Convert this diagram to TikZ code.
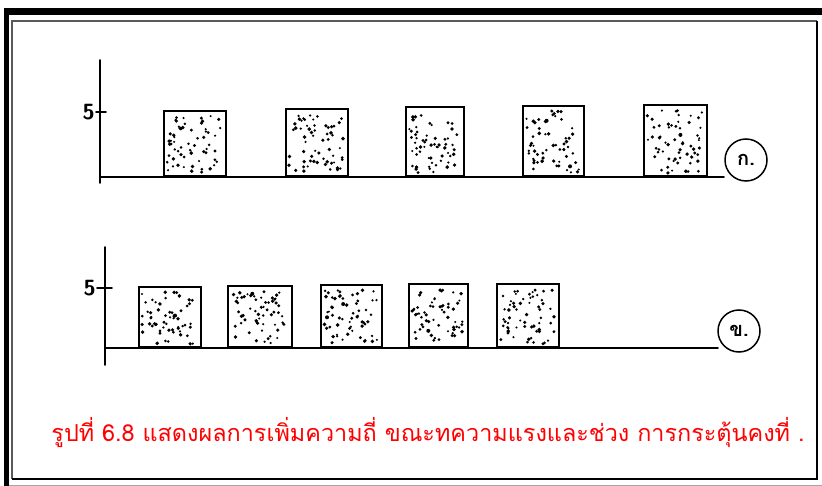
\documentclass[tikz,border=0pt]{standalone}
\usepackage{fontspec}
\newfontfamily\thaifont[Script=Thai]{Loma}
\usetikzlibrary{calc}
\tikzset{
  axisline/.style={line width=1.8pt, line cap=round},
  barbox/.style={draw, line width=1.8pt, inner sep=0pt, anchor=south west},
  tagcircle/.style={draw, circle, line width=1.5pt, minimum size=42pt, inner sep=0pt, font=\thaifont\bfseries\fontsize{20}{20}\selectfont},
  ticklabel/.style={font=\sffamily\bfseries\fontsize{22}{22}\selectfont, inner sep=1pt},
  caption/.style={font=\thaifont\fontsize{23.4}{24}\selectfont, text=red}
}
\newcommand{\mystipple}[3]{%
  \foreach \k in {1,...,60}{%
    \pgfmathsetmacro\dx{rnd*(#2-8)+4}%
    \pgfmathsetmacro\dy{rnd*(#3-8)+4}%
    \pgfmathsetmacro\rr{1.1+0.9*rnd}%
    \fill ([xshift=\dx pt, yshift=\dy pt]#1.south west) circle (\rr pt);
  }%
}
\begin{document}
\begin{tikzpicture}[x=1pt,y=-1pt]
\pgfmathsetseed{7}
\useasboundingbox (0,0) rectangle (822,486);
% frame
\fill[black] (4,8) rectangle (822,15);
\fill[black] (4,8) rectangle (9,486);
\draw[black!65, line width=1.3pt] (817,21) -- (12,21) -- (12,479);
\draw[black, line width=1.5pt] (817,21) -- (817,479) -- (12,479);
\draw[black!35, line width=1pt] (9,485) -- (822,485);

% chart A
\coordinate (a0) at (100,177);
\coordinate (atop) at (100,60);
\coordinate (abot) at (100,183);
\coordinate (aend) at (724,177);
\coordinate (atick) at (106,112);
\draw[axisline] (atop) -- (abot);
\draw[axisline] (a0) -- (aend);
\draw[axisline] (96,112) -- (atick);
\node[ticklabel, anchor=east] (a5) at (96,112) {5};
\node[barbox, minimum width=62pt, minimum height=65pt] (a1) at (163,177) {};
\node[barbox, minimum width=62pt, minimum height=67pt] (a2) at (285,177) {};
\node[barbox, minimum width=58pt, minimum height=69pt] (a3) at (405,177) {};
\node[barbox, minimum width=61pt, minimum height=70pt] (a4) at (522,177) {};
\node[barbox, minimum width=63pt, minimum height=71pt] (a5b) at (643,177) {};
\mystipple{a1}{62}{65}
\mystipple{a2}{62}{67}
\mystipple{a3}{58}{69}
\mystipple{a4}{61}{70}
\mystipple{a5b}{63}{71}
\node[tagcircle] (ka) at (746,160) {ก.};

% chart B
\coordinate (b0) at (105,348);
\coordinate (btop) at (105,247);
\coordinate (bbot) at (105,365);
\coordinate (bend) at (718,348);
\coordinate (btick) at (112,288);
\draw[axisline] (btop) -- (bbot);
\draw[axisline] (b0) -- (bend);
\draw[axisline] (97,288) -- (btick);
\node[ticklabel, anchor=east] (b5) at (97,288) {5};
\node[barbox, minimum width=62pt, minimum height=60pt] (b1) at (138,348) {};
\node[barbox, minimum width=64pt, minimum height=61pt] (b2) at (227,348) {};
\node[barbox, minimum width=61pt, minimum height=62pt] (b3) at (320,348) {};
\node[barbox, minimum width=59pt, minimum height=63pt] (b4) at (408,348) {};
\node[barbox, minimum width=62pt, minimum height=63pt] (b5b) at (496,348) {};
\mystipple{b1}{62}{60}
\mystipple{b2}{64}{61}
\mystipple{b3}{61}{62}
\mystipple{b4}{59}{63}
\mystipple{b5b}{62}{63}
\node[tagcircle] (kb) at (739,331) {ข.};

% caption
\node[caption] (cap) at (428,433) {รูปที่ 6.8 แสดงผลการเพิ่มความถี่ ขณะทความแรงและช่วง การกระตุ้นคงที่ .};
\end{tikzpicture}
\end{document}
